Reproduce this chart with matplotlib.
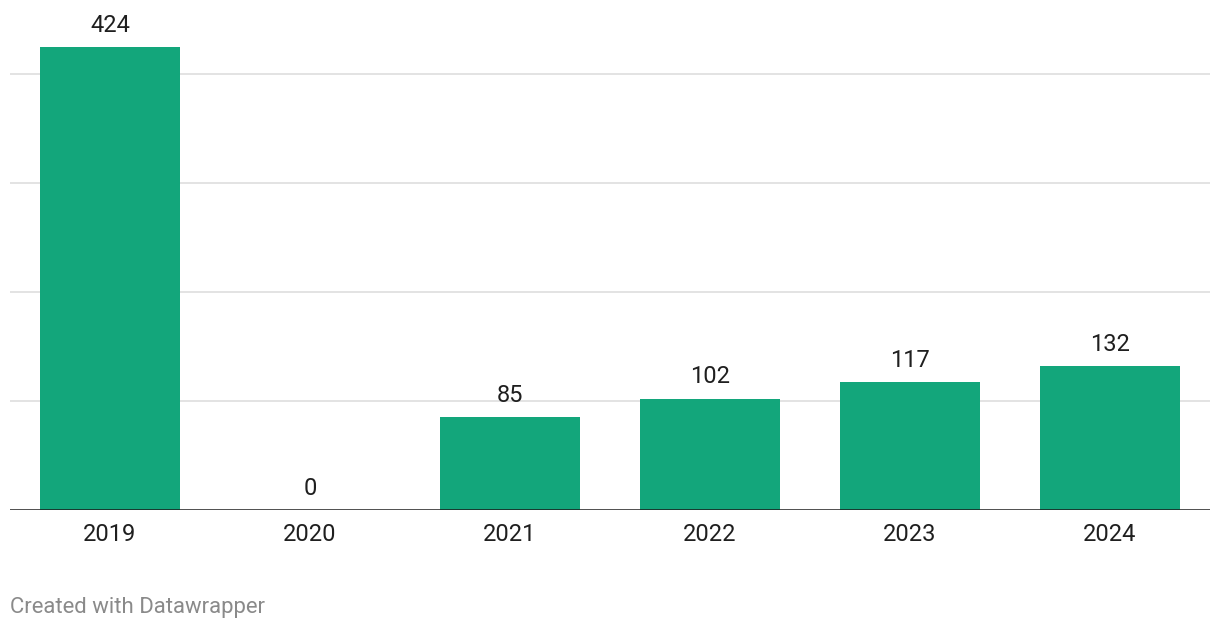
import matplotlib
matplotlib.use("Agg")
import matplotlib.pyplot as plt

years = ["2019", "2020", "2021", "2022", "2023", "2024"]
values = [424, 0, 85, 102, 117, 132]
gridlines = [100, 200, 300, 400]

plt.rcParams['font.family'] = ['Roboto', 'DejaVu Sans']

W, H = 1220, 630
fig = plt.figure(figsize=(W / 100, H / 100), dpi=100)
ax = fig.add_axes([10 / W, 1 - 510 / H, 1200 / W, 480 / H])

x = list(range(len(years)))
ax.bar(x, values, width=0.7, color="#13a67b", zorder=3)
ax.set_xlim(-0.5, len(years) - 0.5)
ax.set_ylim(0, 440)

for g in gridlines:
    ax.axhline(g, color="#e3e3e3", lw=1.4, zorder=1)
ax.axhline(0, color="#1a1a1a", lw=1.8, zorder=4)

for xi, v in zip(x, values):
    ax.annotate(str(v), (xi, v), xytext=(0, 7.5), textcoords="offset points",
                ha="center", va="bottom", fontsize=17, color="#1f1f1f")

ax.set_xticks(x)
ax.set_xticklabels(years, fontsize=17, color="#1f1f1f")
ax.tick_params(axis="x", length=0, pad=9.5)
ax.set_yticks([])
for s in ax.spines.values():
    s.set_visible(False)

fig.text(10 / W, 1 - 607 / H, "Created with Datawrapper", fontsize=15.9,
         color="#8a8a8a", ha="left", va="center")

fig.savefig("out.png", dpi=100)
